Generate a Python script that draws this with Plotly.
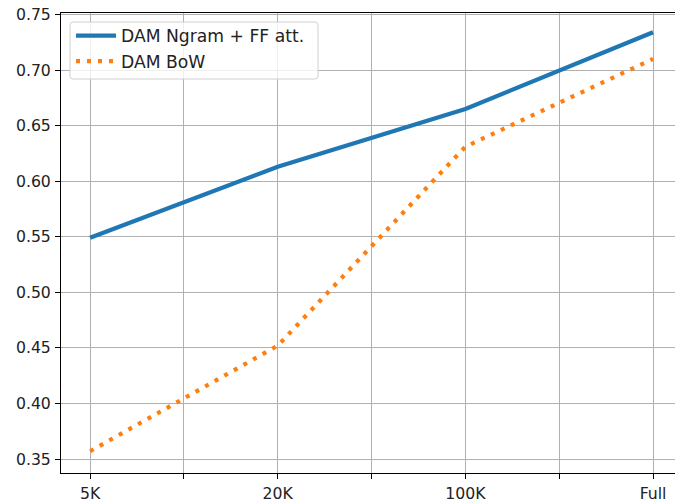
import numpy as np
import plotly.graph_objects as go

categories = ["5K", "20K", "100K", "Full"]
dam_ngram_ff = [0.549, 0.613, 0.665, 0.734]
dam_bow = [0.357, 0.452, 0.631, 0.710]
tick_labels = ["5K", "", "20K", "", "100K", "", "Full"]
y_ticks = [0.35, 0.40, 0.45, 0.50, 0.55, 0.60, 0.65, 0.70, 0.75]

x = list(range(len(categories)))
tickvals = list(np.arange(0, len(categories) - 1 + 0.01, 0.5))

FONT = "DejaVu Sans"
TICK_SIZE = 15.7
LEG_SIZE = 17.2

fig = go.Figure()
fig.add_trace(go.Scatter(
    x=x, y=dam_ngram_ff, mode="lines", name="DAM Ngram + FF att.",
    line=dict(color="#1f77b4", width=4.2),
))
fig.add_trace(go.Scatter(
    x=x, y=dam_bow, mode="lines", name="DAM BoW",
    line=dict(color="#ff7f0e", width=4.2, dash="4px,7px"),
))

W, H = 675, 502
ml, mr, mt, mb = 61, 0, 13, 29
pw = W - ml - mr
ph = H - mt - mb


def px_x(p):
    return (p - ml) / pw


def px_y(p):
    return 1 - (p - mt) / ph


# legend frame (rounded rectangle) in pixel terms
lx0, lx1, ly0, ly1, r = 70, 318, 22, 79, 3
rx, ry = r / pw, r / ph
X0, X1, Y0, Y1 = px_x(lx0), px_x(lx1), px_y(ly1), px_y(ly0)
frame_path = (
    f"M{X0+rx},{Y0} L{X1-rx},{Y0} Q{X1},{Y0} {X1},{Y0+ry} "
    f"L{X1},{Y1-ry} Q{X1},{Y1} {X1-rx},{Y1} "
    f"L{X0+rx},{Y1} Q{X0},{Y1} {X0},{Y1-ry} "
    f"L{X0},{Y0+ry} Q{X0},{Y0} {X0+rx},{Y0} Z"
)
fig.add_shape(type="path", path=frame_path, xref="paper", yref="paper",
              fillcolor="rgba(255,255,255,0.8)",
              line=dict(color="#d0d0d0", width=1), layer="above")

fig.update_layout(
    width=W, height=H,
    margin=dict(l=ml, r=mr, t=mt, b=mb, pad=0),
    paper_bgcolor="white", plot_bgcolor="white",
    font=dict(family=FONT, size=TICK_SIZE, color="#222"),
    showlegend=True,
    legend=dict(
        x=px_x(71), y=px_y(18),
        xanchor="left", yanchor="top",
        bgcolor="rgba(0,0,0,0)", borderwidth=0,
        font=dict(family=FONT, size=LEG_SIZE, color="#222"),
        tracegroupgap=0, itemwidth=40,
    ),
    xaxis=dict(
        range=[-0.155, 3.117],
        tickmode="array", tickvals=tickvals, ticktext=tick_labels,
        showgrid=True, gridcolor="#b0b0b0", gridwidth=1,
        showline=True, linecolor="black", linewidth=1, mirror=True,
        ticks="outside", ticklen=5, tickwidth=1, tickcolor="black",
        zeroline=False, automargin=False, ticklabelstandoff=1,
        tickfont=dict(family=FONT, size=TICK_SIZE, color="#222"),
    ),
    yaxis=dict(
        range=[0.3374, 0.7513],
        tickmode="array", tickvals=y_ticks,
        ticktext=[f"{v:.2f}" for v in y_ticks],
        showgrid=True, gridcolor="#b0b0b0", gridwidth=1,
        showline=True, linecolor="black", linewidth=1, mirror=False,
        ticks="outside", ticklen=5, tickwidth=1, tickcolor="black",
        zeroline=False, automargin=False, ticklabelstandoff=1,
        tickfont=dict(family=FONT, size=TICK_SIZE, color="#222"),
    ),
)

fig.write_html(
    "out.html",
    config={"displayModeBar": False},
    post_script="document.body.style.margin='0px';document.body.style.overflow='hidden';",
)
